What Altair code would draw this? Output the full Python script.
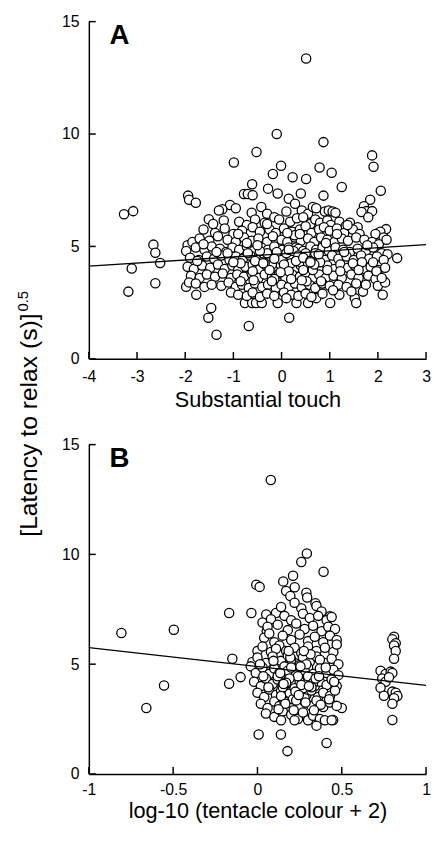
import altair as alt
import pandas as pd

FONT = "Liberation Sans"
W = 342
HA = 342
HB = 334

# ---------------- Panel A: substantial touch ----------------
a_x = [
    0.51, -0.1, 0.87, -0.52, -0.99, 1.88, 1.91, -0.01, -0.18, 0.79,
    1.04, 0.23, 0.51, 1.25, -0.61, -0.28, -0.08, 0.4, 0.87, 2.06,
    1.84, -1.94, -1.92, -1.78, -1.07, -1.23, -0.78, -0.7, -0.6, 0.15,
    0.28, -3.27, -3.08, -1.51, 1.71, 1.76, 1.88, 1.66, 1.8, -2.66,
    -2.62, -2.52, -3.11, -2.62, -3.18, -1.46, -1.52, -1.35, -0.68, 0.16,
    1.01, 1.52, 1.55, 1.69, 2.1, 2.4, 2.17, 2.05, -0.76, -0.61,
    -0.53, -0.41, -0.08, 0.31, 0.55, 0.72, -1.77, -1.98,
    -1.3, -0.95, -0.62, -0.42, -0.3, 0.1, 0.42, 0.55, 0.65, 0.72, 0.9, 0.98, 1.06, 1.12, -0.15,
    -1.42, -1.2, -0.88, -0.72, -0.55, -0.35, -0.05, 0.18, 0.32, 0.45, 0.6, 0.7, 0.8, 0.95, 1.02, 1.2, 1.42, 1.58, 1.33,
    -1.62, -1.38, -1.18, -1.0, -0.82, -0.6, -0.45, -0.25, -0.12, 0.05, 0.22, 0.38, 0.5, 0.62, 0.78, 0.88, 1.0, 1.15, 1.3, 1.48, 1.62, 1.95, 2.12,
    -1.95, -1.85, -1.7, -1.5, -1.32, -1.12, -0.95, -0.78, -0.62, -0.48, -0.3, -0.18, 0.0, 0.12, 0.28, 0.4, 0.55, 0.68, 0.82, 0.95, 1.1, 1.25, 1.38, 1.55, 1.72, 1.88, 2.02, 2.18,
    -1.98, -1.78, -1.6, -1.45, -1.28, -1.15, -1.02, -0.88, -0.72, -0.58, -0.42, -0.28, -0.15, 0.02, 0.15, 0.3, 0.35, 0.45, 0.6, 0.72, 0.85, 0.98, 1.12, 1.28, 1.42, 1.58, 1.75, 1.9, 2.08, 2.2,
    -1.9, -1.72, -1.55, -1.4, -1.25, -1.08, -0.95, -0.8, -0.65, -0.5, -0.35, -0.22, -0.27, -0.08, 0.05, 0.2, 0.32, 0.48, 0.62, 0.75, 0.9, 1.05, 1.18, 1.35, 1.5, 1.65, 1.82, 1.98, 2.12,
    -1.95, -1.82, -1.65, -1.48, -1.32, -1.18, -1.02, -0.9, -0.75, -0.6, -0.45, -0.32, -0.18, -0.02, 0.1, 0.25, 0.3, 0.4, 0.55, 0.7, 0.82, 0.95, 1.1, 1.22, 1.38, 1.52, 1.7, 1.85, 2.0, 2.15,
    -1.88, -1.7, -1.55, -1.38, -1.22, -1.05, -0.92, -0.78, -0.62, -0.48, -0.35, -0.2, -0.05, 0.08, 0.22, 0.38, 0.5, 0.65, 0.78, 0.92, 1.08, 1.25, 1.45, 1.6, 1.8, 1.95, 2.12,
    -1.92, -1.78, -1.6, -1.45, -1.25, -1.1, -0.95, -0.82, -0.68, -0.55, -0.4, -0.28, -0.12, 0.0, 0.15, 0.28, 0.42, 0.58, 0.7, 0.85, 1.0, 1.18, 1.35, 1.55, 1.75, 2.0, 2.15,
    -1.05, -0.9, -0.72, -0.6, -0.45, -0.3, -0.15, 0.05, 0.2, 0.35, 0.5, 0.62, 0.85, 1.2, 0.1,
    -0.4, -0.3, -0.2, -0.1, 0.0, 0.1, 0.2, 0.25, 0.35, 0.4, 0.5, 0.55, -0.45, -0.35, -0.15, 0.05, 0.15, 0.3, 0.45, 0.6,
    -0.55, -0.7, -0.85, 0.7, 0.8, -0.25, 0.15, 0.45, -0.6, 0.65,
    -1.62, -1.12, -0.72, -0.38, -0.02, 0.27, 0.52, 0.77, 1.07, 1.37, 1.67, 1.97,
    -1.35, -0.85, -0.5, -0.15, 0.12, 0.42, 0.68, 0.92, 1.22, 1.48, 1.78, 2.08,
    -1.75, -1.0, -0.58, -0.3, 0.2, 0.6, 0.95, 1.3, 1.6, 1.9,
    -0.9, -0.2, 0.38, 0.82, 1.15, 1.45,
]
a_y = [
    13.36, 10.0, 9.64, 9.2, 8.73, 9.05, 8.54, 8.59, 8.22, 8.51,
    8.28, 8.08, 8.0, 7.64, 7.77, 7.57, 7.35, 7.35, 7.26, 7.48,
    7.08, 7.26, 7.08, 6.94, 6.84, 6.65, 7.33, 7.33, 7.28, 7.12,
    6.9, 6.43, 6.57, 6.21, 6.79, 6.57, 6.57, 6.53, 6.3, 5.08,
    4.72, 4.26, 4.02, 3.36, 2.99, 2.26, 1.83, 1.07, 1.46, 1.83,
    2.48, 2.7, 2.48, 2.99, 2.85, 4.48, 5.77, 5.65, 2.48, 2.48,
    2.48, 2.48, 2.48, 2.48, 2.48, 2.7, 2.85, 3.21,
    6.6, 6.7, 6.5, 6.75, 6.45, 6.55, 6.6, 6.45, 6.75, 6.7, 6.55, 6.6, 6.55, 6.5, 6.3,
    6.0, 6.15, 6.1, 5.95, 6.2, 6.05, 6.2, 6.1, 6.25, 6.3, 6.0, 6.2, 6.05, 6.15, 5.95, 6.1, 6.05, 5.85, 5.9,
    5.75, 5.6, 5.8, 5.55, 5.7, 5.85, 5.65, 5.75, 5.6, 5.8, 5.65, 5.75, 5.9, 5.6, 5.75, 5.85, 5.7, 5.8, 5.6, 5.75, 5.55, 5.55, 5.4,
    5.05, 5.2, 5.35, 5.25, 5.45, 5.3, 5.2, 5.4, 5.25, 5.35, 5.2, 5.45, 5.3, 5.2, 5.4, 5.25, 5.35, 5.2, 5.4, 5.3, 5.2, 5.35, 5.25, 5.4, 5.3, 5.2, 5.1, 5.3,
    4.8, 4.95, 4.85, 5.0, 4.9, 4.75, 4.95, 4.85, 5.0, 4.8, 4.95, 4.85, 5.0, 4.85, 4.95, 4.95, 4.9, 4.8, 5.0, 4.85, 4.95, 4.8, 4.95, 4.85, 4.75, 4.9, 4.8, 4.95, 4.7, 4.65,
    4.5, 4.4, 4.55, 4.45, 4.6, 4.4, 4.55, 4.45, 4.6, 4.4, 4.55, 4.4, 4.3, 4.6, 4.45, 4.55, 4.4, 4.6, 4.45, 4.55, 4.4, 4.6, 4.45, 4.55, 4.4, 4.6, 4.45, 4.55, 4.4,
    4.1, 4.0, 4.15, 4.05, 4.2, 4.0, 4.15, 3.95, 4.1, 4.2, 4.0, 4.15, 4.05, 4.2, 4.0, 4.1, 4.05, 4.15, 4.0, 4.2, 4.05, 4.15, 4.0, 4.2, 4.05, 4.15, 4.0, 4.1, 3.95, 4.05,
    3.7, 3.6, 3.75, 3.65, 3.8, 3.6, 3.75, 3.65, 3.8, 3.6, 3.75, 3.65, 3.8, 3.6, 3.75, 3.65, 3.8, 3.6, 3.75, 3.6, 3.7, 3.6, 3.75, 3.6, 3.7, 3.55, 3.45,
    3.4, 3.35, 3.2, 3.3, 3.25, 3.4, 3.2, 3.3, 3.15, 3.35, 3.2, 3.3, 3.15, 3.3, 3.2, 3.35, 3.2, 3.3, 3.15, 3.35, 3.25, 3.3, 3.2, 3.35, 3.3, 3.25, 3.4,
    2.95, 2.85, 2.8, 2.95, 2.75, 2.9, 2.8, 2.95, 2.85, 2.8, 2.9, 2.75, 2.9, 2.85, 2.7,
    4.3, 4.7, 4.2, 4.75, 4.4, 4.7, 4.25, 4.8, 4.6, 4.3, 4.7, 4.25, 4.8, 4.25, 4.45, 4.2, 4.85, 4.35, 4.5, 4.35,
    4.35, 4.7, 4.25, 4.7, 4.3, 3.95, 3.9, 3.95, 3.9, 3.95,
    5.1, 4.7, 5.15, 4.25, 3.85, 5.5, 3.45, 4.65, 3.05, 5.95, 4.3, 3.9,
    4.75, 3.45, 5.05, 3.55, 5.6, 3.5, 4.2, 5.15, 3.9, 4.25, 5.05, 3.6,
    4.35, 4.3, 3.5, 6.0, 3.55, 4.3, 3.95, 4.75, 3.95, 4.3,
    5.55, 3.45, 5.55, 3.45, 5.55, 3.0,
]

# ---------------- Panel B: tentacle colour ----------------
b_x = [
    0.079, 0.293, 0.26, 0.392, 0.211, 0.153, 0.221, -0.007, 0.013, 0.17,
    0.195, 0.29, 0.295, 0.344, -0.168, -0.036, 0.052, 0.11, 0.43, 0.03,
    0.055, -0.807, -0.496, -0.149, -0.1, -0.168, -0.554, -0.659, 0.007, 0.139,
    0.178, 0.41, 0.5, 0.449,
    0.81, 0.8, 0.82, 0.81, 0.82, 0.81, 0.73, 0.76, 0.79, 0.8,
    0.74, 0.76, 0.73, 0.75, 0.8, 0.82, 0.83, 0.81, 0.8, 0.8, 0.78,
    0.14, 0.26, 0.35, 0.38, 0.22,
    0.08, 0.16, 0.2, 0.27, 0.31, 0.36, 0.41, 0.44,
    0.06, 0.12, 0.18, 0.23, 0.28, 0.33, 0.38, 0.42, 0.46,
    0.04, 0.1, 0.15, 0.2, 0.25, 0.3, 0.34, 0.39, 0.43, 0.47, 0.07,
    0.0, 0.03, 0.08, 0.13, 0.17, 0.22, 0.26, 0.3, 0.35, 0.4, 0.45, 0.47, 0.11,
    -0.03, 0.0, 0.05, 0.09, 0.14, 0.18, 0.22, 0.27, 0.31, 0.35, 0.4, 0.44, 0.48, 0.2, 0.37,
    -0.04, -0.01, 0.03, 0.07, 0.1, 0.13, 0.16, 0.19, 0.23, 0.26, 0.3, 0.33, 0.37, 0.41, 0.45, 0.48, 0.21, 0.28,
    -0.02, 0.02, 0.05, 0.09, 0.12, 0.15, 0.18, 0.21, 0.24, 0.27, 0.3, 0.34, 0.37, 0.41, 0.44, 0.47, 0.2, 0.25,
    0.0, 0.04, 0.07, 0.11, 0.14, 0.17, 0.2, 0.23, 0.26, 0.29, 0.32, 0.36, 0.39, 0.43, 0.46, 0.19, 0.24,
    0.02, 0.06, 0.1, 0.13, 0.16, 0.19, 0.22, 0.25, 0.28, 0.32, 0.35, 0.39, 0.43, 0.47, 0.2,
    0.05, 0.1, 0.15, 0.2, 0.24, 0.27, 0.3, 0.33, 0.37, 0.4, 0.44, 0.35, 0.14, 0.22,
    0.12, 0.15, 0.18, 0.21, 0.24, 0.27, 0.3, 0.33, 0.16, 0.19,
    0.22, 0.25, 0.28, 0.14, 0.17, 0.2, 0.23, 0.26, 0.29, 0.32,
    0.135, 0.165, 0.195, 0.225, 0.255, 0.285, 0.315, 0.345, 0.375, 0.405,
    0.035, 0.065, 0.095, 0.125, 0.155, 0.185, 0.215, 0.245, 0.275, 0.305,
    0.335, 0.365, 0.425, 0.455, 0.015,
]
b_y = [
    13.39, 10.04, 9.65, 9.21, 9.03, 8.77, 8.5, 8.62, 8.52, 8.33,
    8.1, 8.25, 8.04, 7.77, 7.33, 7.33, 7.26, 7.33, 7.18, 6.9,
    6.5, 6.42, 6.57, 5.25, 4.41, 4.11, 4.03, 3.0, 1.8, 1.8,
    1.04, 1.41, 3.0, 2.46,
    6.25, 6.13, 5.95, 5.85, 5.6, 5.25, 4.7, 4.55, 4.66, 4.6,
    4.35, 4.2, 3.93, 3.56, 3.75, 3.7, 3.55, 3.45, 3.2, 2.46, 4.4,
    7.6, 7.55, 7.65, 7.4, 7.8,
    7.05, 7.2, 7.0, 7.3, 7.1, 7.2, 7.0, 7.15,
    6.7, 6.8, 6.55, 6.85, 6.6, 6.75, 6.5, 6.7, 6.6,
    6.2, 6.0, 6.3, 6.1, 6.35, 6.05, 6.25, 6.0, 6.3, 6.1, 6.4,
    5.6, 5.8, 5.55, 5.85, 5.6, 5.75, 5.5, 5.8, 5.6, 5.75, 5.55, 5.9, 5.7,
    5.1, 5.3, 5.05, 5.35, 5.15, 5.4, 5.05, 5.3, 5.1, 5.35, 5.05, 5.25, 5.0, 5.2, 5.2,
    4.9, 4.6, 4.85, 4.55, 4.8, 4.6, 4.9, 4.5, 4.75, 4.6, 4.85, 4.55, 4.8, 4.6, 4.75, 4.5, 4.65, 4.7,
    4.2, 4.0, 4.35, 4.1, 4.3, 4.05, 4.25, 4.0, 4.35, 4.1, 4.3, 4.0, 4.2, 4.05, 4.3, 4.0, 4.15, 4.2,
    3.7, 3.5, 3.85, 3.6, 3.8, 3.5, 3.75, 3.55, 3.85, 3.6, 3.8, 3.5, 3.7, 3.55, 3.8, 3.65, 3.7,
    3.2, 3.0, 3.3, 3.1, 3.35, 3.05, 3.25, 3.0, 3.3, 3.1, 3.35, 3.05, 3.25, 3.1, 3.2,
    2.75, 2.6, 2.85, 2.7, 2.5, 2.8, 2.45, 2.65, 2.5, 2.45, 2.45, 2.2, 2.45, 2.45,
    4.45, 3.95, 4.7, 3.4, 4.45, 3.9, 4.45, 4.15, 3.3, 4.35,
    3.9, 4.95, 3.45, 3.55, 4.15, 4.85, 3.35, 4.05, 5.0, 3.95,
    4.6, 3.2, 5.3, 3.75, 4.9, 3.25, 5.45, 4.35, 3.15, 4.85,
    4.45, 3.95, 5.15, 2.95, 4.1, 5.6, 2.9, 3.6, 5.6, 4.0,
    2.9, 4.45, 3.4, 4.2, 5.0,
]

# regression lines (end points)
a_fit_x = [-4, 3]
a_fit_y = [4.12, 5.08]
b_fit_x = [-1, 1]
b_fit_y = [5.75, 4.03]

a_xticks = [-4, -3, -2, -1, 0, 1, 2, 3]
b_xticks = [-1, -0.5, 0, 0.5, 1]
y_ticks = [0, 5, 10, 15]

a_title = "Substantial touch"
b_title = "log-10 (tentacle colour + 2)"
y_title = "[Latency to relax (s)]"
y_title_sup = "0.5"


def panel(px, py, fx, fy, xticks, xdomain, xtitle, letter, tpad, lpad, h, with_ytitle):
    xs = alt.Scale(domain=xdomain, nice=False, zero=False)
    ys = alt.Scale(domain=[0, 15], nice=False, zero=False)
    xaxis = alt.Axis(values=xticks, labelExpr="'' + datum.value", labelFlush=False,
                     titlePadding=tpad, labelPadding=lpad)
    yaxis = alt.Axis(values=y_ticks, labelExpr="'' + datum.value", labelPadding=10)

    pts = alt.Chart(pd.DataFrame({"x": px, "y": py})).mark_circle(
        size=88, fill="white", stroke="black", strokeWidth=1.3, opacity=1
    ).encode(
        x=alt.X("x:Q", scale=xs, axis=xaxis, title=xtitle),
        y=alt.Y("y:Q", scale=ys, axis=yaxis, title=None),
    )
    fit = alt.Chart(pd.DataFrame({"x": fx, "y": fy})).mark_line(
        color="black", strokeWidth=1.3
    ).encode(
        x=alt.X("x:Q", scale=xs, title=xtitle),
        y=alt.Y("y:Q", scale=ys, title=None),
    )
    xt = alt.Chart(pd.DataFrame({"x": xticks})).mark_rule(
        color="black", strokeWidth=1.5
    ).encode(
        x=alt.X("x:Q", scale=xs, title=xtitle),
        y=alt.value(h),
        y2=alt.value(h - 7),
    )
    yt = alt.Chart(pd.DataFrame({"y": y_ticks})).mark_rule(
        color="black", strokeWidth=1.5
    ).encode(
        y=alt.Y("y:Q", scale=ys, title=None),
        x=alt.value(0),
        x2=alt.value(7),
    )
    lab = alt.Chart(pd.DataFrame({"t": [letter]})).mark_text(
        align="left", baseline="alphabetic", font=FONT, fontSize=28,
        fontWeight="bold", color="black"
    ).encode(text="t:N", x=alt.value(21), y=alt.value(23))

    layers = [pts, fit, xt, yt, lab]
    if with_ytitle:
        yt_main = alt.Chart(pd.DataFrame({"t": [y_title]})).mark_text(
            angle=270, align="right", baseline="alphabetic", font=FONT,
            fontSize=25, color="black"
        ).encode(text="t:N", x=alt.value(-53), y=alt.value(296))
        yt_sup = alt.Chart(pd.DataFrame({"t": [y_title_sup]})).mark_text(
            angle=270, align="left", baseline="alphabetic", font=FONT,
            fontSize=15, color="black"
        ).encode(text="t:N", x=alt.value(-62), y=alt.value(294))
        layers += [yt_main, yt_sup]
    return alt.layer(*layers).properties(width=W, height=h)


pa = panel(a_x, a_y, a_fit_x, a_fit_y, a_xticks, [-4, 3], a_title, "A", 5, 10, HA, True)
pb = panel(b_x, b_y, b_fit_x, b_fit_y, b_xticks, [-1, 1], b_title, "B", 3, 8, HB, False)

chart = alt.vconcat(pa, pb, spacing=87, bounds="flush").properties(
    padding={"left": 8, "top": 0, "right": 0, "bottom": 0}
).configure_view(stroke=None).configure_axis(
    domainColor="black", domainWidth=1.5, ticks=False, tickSize=0, grid=False,
    labelFont=FONT, labelFontSize=16, labelColor="black",
    titleFont=FONT, titleFontSize=22, titleFontWeight="normal", titleColor="black",
)

chart.save("out.html", embed_options={"renderer": "svg", "actions": False})
